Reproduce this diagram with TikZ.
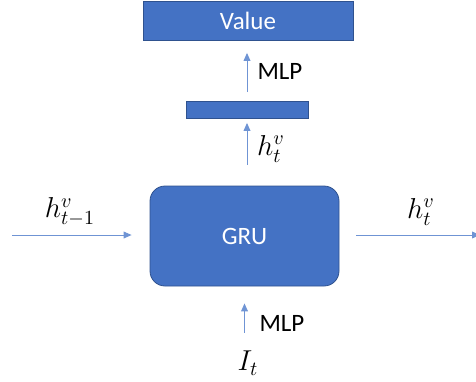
\documentclass[tikz,border=0pt]{standalone}
\usepackage{fontspec}
\setsansfont{Carlito}
\definecolor{gruBlue}{HTML}{4472C4}
\definecolor{gruEdge}{HTML}{2F528F}
\definecolor{gruArrow}{HTML}{6F94D4}
\usetikzlibrary{arrows.meta, positioning}
\tikzset{
    block node/.style={rectangle, draw=gruEdge, fill=gruBlue, line width=0.4pt, text=white, align=center, font=\sffamily\fontsize{12.5}{15}\selectfont, inner sep=0pt},
    bar node/.style={rectangle, draw=gruEdge, fill=gruBlue, line width=0.4pt, inner sep=0pt},
    flow arrow/.style={-{Triangle[length=4pt, width=3.4pt]}, line width=0.5pt, gruArrow},
    label text/.style={font=\sffamily\fontsize{12.5}{15}\selectfont, inner sep=0pt},
    math label/.style={font=\fontsize{14}{17}\selectfont, inner sep=0pt},
}

\begin{document}
\begin{tikzpicture}[x=0.5pt, y=-0.5pt]
    \useasboundingbox (0,0) rectangle (476,381);
    % blocks
    \node[block node, minimum width=105pt, minimum height=19.5pt] (value) at (248,21) {Value};
    \node[bar node, minimum width=61pt, minimum height=8.5pt] (bar) at (247,110) {};
    \node[block node, rounded corners=7.5pt, minimum width=94.5pt, minimum height=50pt] (gru) at (244.5,236) {GRU};
    \node[math label] (input) at (248,363) {$I_t$};
    \coordinate (prev) at (12,235);
    \coordinate (next) at (480,235);
    % connectors
    \draw[flow arrow, shorten <=9pt, shorten >=8.5pt] (input.north -| gru.south) -- (gru.south);
    \draw[flow arrow, shorten <=10.5pt, shorten >=2pt] (gru.north -| bar.south) -- (bar.south);
    \draw[flow arrow, shorten <=4.5pt, shorten >=6pt] (bar.north) -- (bar.north |- value.south);
    \draw[flow arrow, shorten >=9pt] (prev) -- (prev -| gru.west);
    \draw[flow arrow, shorten <=8.5pt] (next -| gru.east) -- (next);
    % labels
    \node[label text] (mlp top) at (280,71) {MLP};
    \node[math label] (h top) at (271,149) {$h_t^v$};
    \node[label text] (mlp bottom) at (282,323) {MLP};
    \node[math label] (h prev) at (70,212) {$h_{t-1}^v$};
    \node[math label] (h next) at (421,212) {$h_t^v$};
\end{tikzpicture}
\end{document}
